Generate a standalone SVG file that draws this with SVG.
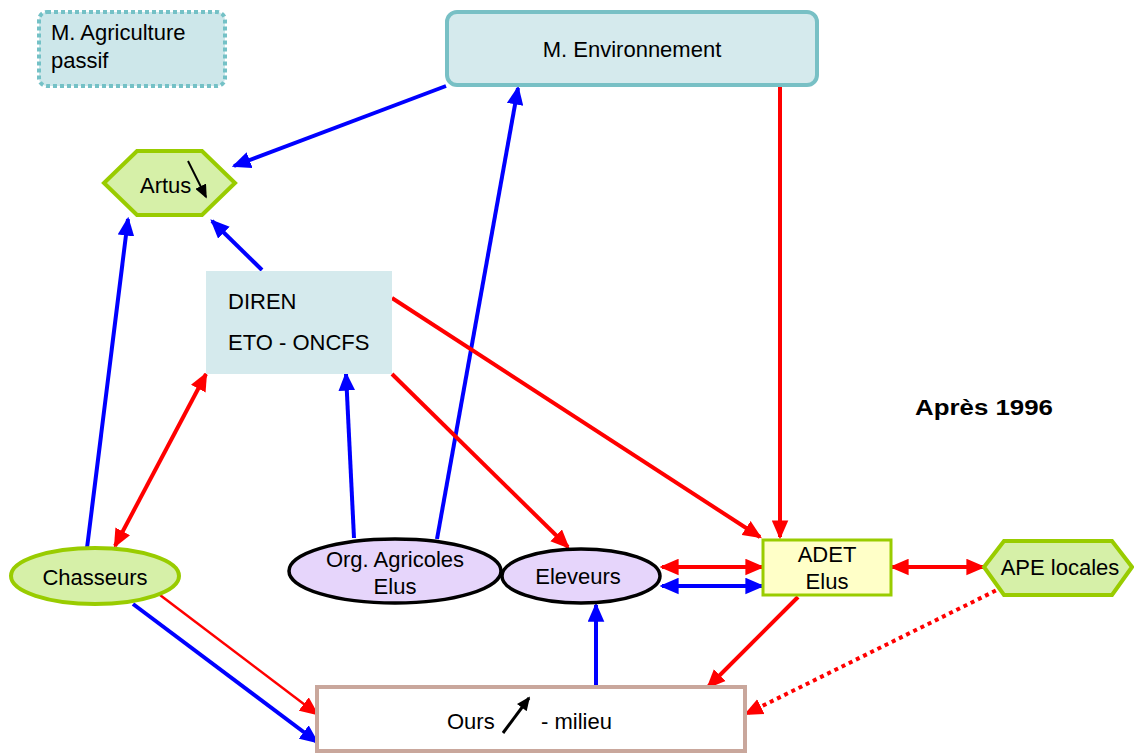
<svg xmlns="http://www.w3.org/2000/svg" width="1134" height="754" viewBox="0 0 1134 754">
<style>
text{font-family:"Liberation Sans",Arial,sans-serif;font-size:22px;fill:#000}
.b{stroke:#0000FF;stroke-width:4;fill:none}
.r{stroke:#FF0000;stroke-width:4;fill:none}
.rt{stroke:#FF0000;stroke-width:2.5;fill:none}
.rd{stroke:#FF0000;stroke-width:4;fill:none;stroke-dasharray:4 4}
.green{fill:#D6F0A8;stroke:#99CC00;stroke-width:4}
.lav{fill:#E6D5FB;stroke:#000;stroke-width:3.5}
</style>
<defs>
<marker id="ab" viewBox="0 0 16 14" refX="14" refY="7" markerWidth="19" markerHeight="17" markerUnits="userSpaceOnUse" orient="auto-start-reverse"><path d="M0,0 L16,7 L0,14 z" fill="#0000FF"/></marker>
<marker id="ar" viewBox="0 0 16 14" refX="14" refY="7" markerWidth="19" markerHeight="17" markerUnits="userSpaceOnUse" orient="auto-start-reverse"><path d="M0,0 L16,7 L0,14 z" fill="#FF0000"/></marker>
<marker id="ak" viewBox="0 0 16 14" refX="14" refY="7" markerWidth="14" markerHeight="12" markerUnits="userSpaceOnUse" orient="auto"><path d="M0,0 L16,7 L0,14 z" fill="#000"/></marker>
</defs>

<g id="connectors">
<line class="b" x1="446" y1="86" x2="234" y2="166" marker-end="url(#ab)"/>
<line class="b" x1="437" y1="539" x2="518" y2="88" marker-end="url(#ab)"/>
<line class="r" x1="780" y1="86" x2="780" y2="537" marker-end="url(#ar)"/>
<line class="b" x1="262" y1="270" x2="212" y2="221" marker-end="url(#ab)"/>
<line class="b" x1="87" y1="548" x2="128" y2="219" marker-end="url(#ab)"/>
<line class="r" x1="206" y1="374" x2="115" y2="546" marker-start="url(#ar)" marker-end="url(#ar)"/>
<line class="r" x1="392" y1="298" x2="760" y2="537" marker-end="url(#ar)"/>
<line class="b" x1="354" y1="538" x2="346" y2="374" marker-end="url(#ab)"/>
<line class="r" x1="392" y1="374" x2="568" y2="547" marker-end="url(#ar)"/>
<line class="r" x1="662" y1="567" x2="762" y2="567" marker-start="url(#ar)" marker-end="url(#ar)"/>
<line class="b" x1="662" y1="586" x2="762" y2="586" marker-start="url(#ab)" marker-end="url(#ab)"/>
<line class="r" x1="892" y1="567" x2="983" y2="567" marker-start="url(#ar)" marker-end="url(#ar)"/>
<line class="r" x1="798" y1="597" x2="708" y2="687" marker-end="url(#ar)"/>
<line class="rd" x1="1003" y1="587" x2="746" y2="714" marker-end="url(#ar)"/>
<line class="b" x1="596" y1="687" x2="596" y2="605" marker-end="url(#ab)"/>
<line class="rt" x1="160" y1="595" x2="317" y2="714" marker-end="url(#ar)"/>
<line class="b" x1="133" y1="604" x2="317" y2="742" marker-end="url(#ab)"/>
</g>

<g id="m-agriculture">
<rect x="39" y="12" width="186" height="74" rx="8" fill="#CDE7EA" stroke="#74C1C6" stroke-width="4" stroke-dasharray="4 3"/>
<text x="51" y="40">M. Agriculture</text>
<text x="51" y="68">passif</text>
</g>

<g id="m-environnement">
<rect x="447" y="12" width="370" height="73" rx="10" fill="#D5EAED" stroke="#78C0C5" stroke-width="4"/>
<text x="632" y="57" text-anchor="middle">M. Environnement</text>
</g>

<g id="artus">
<polygon class="green" points="104,183 137,151 202,151 235,183 202,215 137,215"/>
<text x="140" y="193">Artus</text>
<line x1="188" y1="161" x2="206" y2="197" stroke="#000" stroke-width="2" marker-end="url(#ak)"/>
</g>

<g id="diren">
<rect x="206" y="271" width="186" height="103" fill="#D5EAED"/>
<text x="228" y="309">DIREN</text>
<text x="228" y="350">ETO - ONCFS</text>
</g>

<g id="apres">
<text x="915" y="415" textLength="138" lengthAdjust="spacingAndGlyphs" style="font-weight:bold;font-size:22px">Après 1996</text>
</g>

<g id="chasseurs">
<ellipse class="green" cx="95" cy="576" rx="84" ry="28"/>
<text x="95" y="585" text-anchor="middle">Chasseurs</text>
</g>

<g id="org-agricoles">
<ellipse class="lav" cx="395" cy="571" rx="106" ry="32"/>
<text x="395" y="567" text-anchor="middle">Org. Agricoles</text>
<text x="395" y="594" text-anchor="middle">Elus</text>
</g>

<g id="eleveurs">
<ellipse class="lav" cx="581" cy="576" rx="79" ry="27"/>
<text x="578" y="584" text-anchor="middle">Eleveurs</text>
</g>

<g id="adet">
<rect x="763" y="540" width="128" height="55" fill="#FFFFC8" stroke="#99CC00" stroke-width="3"/>
<text x="827" y="562" text-anchor="middle">ADET</text>
<text x="827" y="589" text-anchor="middle">Elus</text>
</g>

<g id="ape-locales">
<polygon class="green" points="984,567 1004,541 1112,541 1132,567 1112,595 1004,595"/>
<text x="1060" y="575" text-anchor="middle">APE locales</text>
</g>

<g id="ours">
<rect x="317" y="687" width="428" height="64" fill="#FFFFFF" stroke="#C9A79C" stroke-width="4"/>
<text x="447" y="729">Ours</text>
<line x1="503" y1="733" x2="529" y2="698" stroke="#000" stroke-width="3" marker-end="url(#ak)"/>
<text x="541" y="729">- milieu</text>
</g>
</svg>
